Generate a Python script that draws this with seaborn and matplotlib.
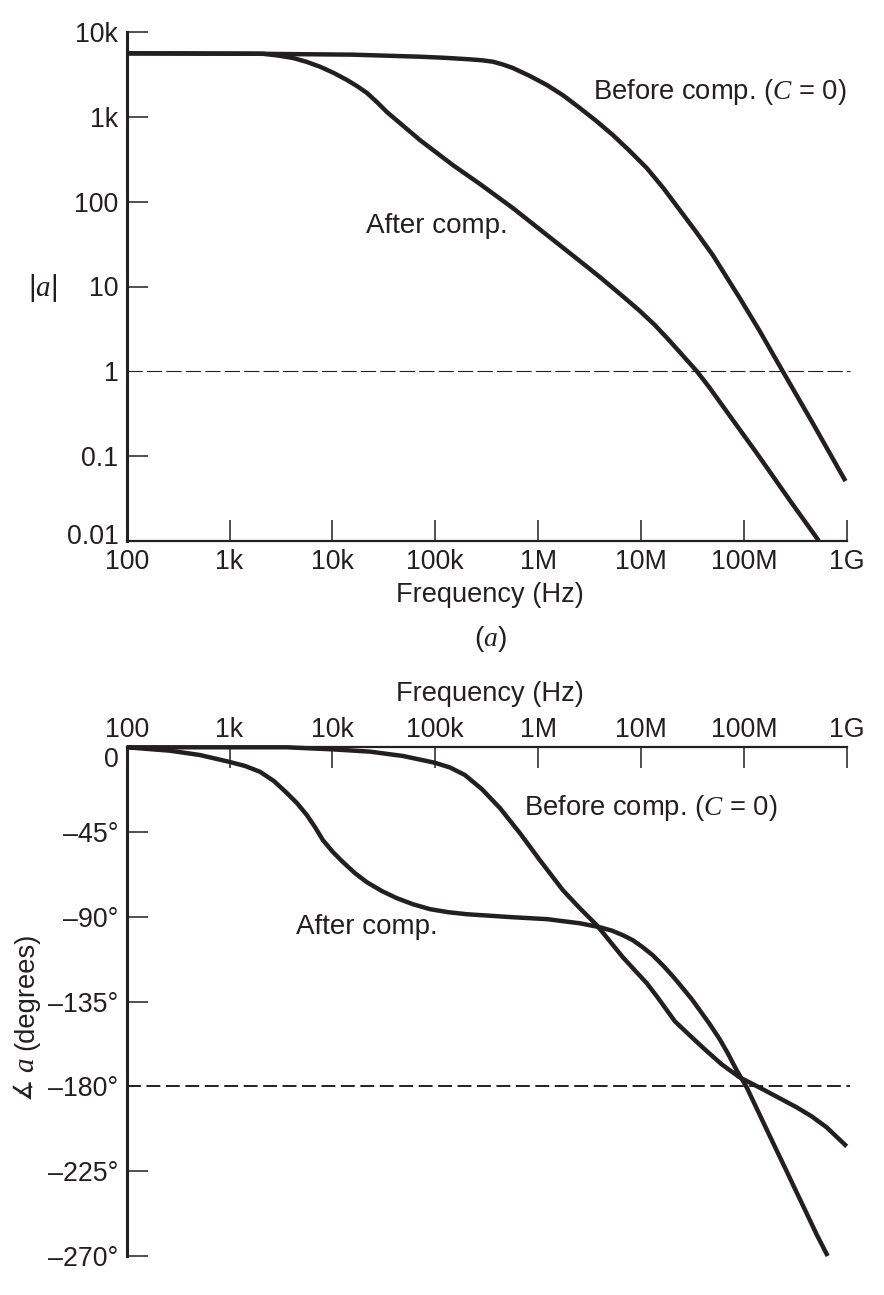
# Bode plots of the amplifier before and after compensation
import numpy as np
import pandas as pd
import seaborn as sns
import matplotlib.pyplot as plt
from matplotlib.transforms import ScaledTranslation

# frequency given as log10(Hz), gain as log10(|a|), phase in degrees
gain_before_logf = [2.00, 3.227, 4.199, 4.850, 5.093, 5.336, 5.453, 5.560, 5.657, 5.754,
                    5.919, 6.085, 6.245, 6.405, 6.566, 6.726, 6.891, 7.056, 7.217, 7.377,
                    7.537, 7.698, 7.960, 8.154, 8.378, 8.669, 8.988]
gain_before_log = [3.752, 3.747, 3.736, 3.712, 3.699, 3.681, 3.670, 3.653, 3.620, 3.579,
                   3.485, 3.378, 3.254, 3.107, 2.953, 2.788, 2.599, 2.398, 2.162, 1.903,
                   1.643, 1.371, 0.864, 0.475, 0.0, -0.611, -1.296]
gain_after_logf = [2.00, 3.325, 3.471, 3.617, 3.747, 3.879, 4.010, 4.142, 4.238, 4.336,
                   4.432, 4.530, 4.850, 5.171, 5.434, 5.754, 6.085, 6.405, 6.600, 6.843,
                   6.989, 7.134, 7.280, 7.543, 7.669, 7.795, 8.125, 8.446, 8.728]
gain_after_log = [3.752, 3.747, 3.726, 3.697, 3.652, 3.594, 3.522, 3.437, 3.366, 3.284,
                  3.177, 3.059, 2.729, 2.433, 2.210, 1.926, 1.608, 1.301, 1.112, 0.864,
                  0.711, 0.546, 0.357, 0.0, -0.198, -0.411, -0.966, -1.522, -2.0]

phase_before_logf = [2.00, 3.558, 4.005, 4.365, 4.685, 4.996, 5.142, 5.288, 5.453, 5.628,
                     5.822, 6.017, 6.240, 6.405, 6.570, 6.697, 6.823, 6.939, 7.056, 7.153,
                     7.231, 7.329, 7.474, 7.620, 7.785, 7.960, 8.184, 8.349, 8.514, 8.660,
                     8.805, 9.0]
phase_before = [0, 0, -1.1, -2.3, -4.6, -8.2, -10.7, -14.7, -22.2, -32.2,
                -45.5, -59.9, -75.8, -85.4, -94.4, -102.9, -111.4, -118.3, -125.2, -132.1,
                -138.0, -145.4, -152.9, -160.3, -168.3, -175.2, -181.5, -186.3, -191.1, -195.9,
                -201.7, -211.8]
phase_after_logf = [2.00, 2.421, 2.712, 2.995, 3.150, 3.296, 3.431, 3.558, 3.655, 3.752,
                    3.830, 3.908, 4.005, 4.102, 4.219, 4.335, 4.481, 4.627, 4.783, 4.948,
                    5.123, 5.307, 5.531, 5.754, 6.085, 6.405, 6.600, 6.717, 6.823, 6.921,
                    7.017, 7.115, 7.212, 7.309, 7.407, 7.494, 7.572, 7.669, 7.766, 7.844,
                    7.931, 8.028, 8.106, 8.184, 8.300, 8.417, 8.514, 8.611, 8.708, 8.815]
phase_after = [0, -1.8, -4.1, -7.7, -9.9, -13.0, -17.9, -24.3, -29.6, -36.0,
               -42.3, -49.3, -55.6, -60.9, -66.8, -71.6, -76.3, -80.1, -83.3, -85.9,
               -87.5, -88.6, -89.4, -90.2, -91.2, -93.4, -95.5, -97.3, -99.7, -102.4,
               -106.1, -110.4, -115.7, -121.5, -127.9, -133.7, -139.6, -147.0, -155.0, -162.4,
               -171.5, -180.5, -189.5, -198.5, -211.8, -225.1, -236.3, -247.4, -258.6, -270.0]

freq_ticks = [1e2, 1e3, 1e4, 1e5, 1e6, 1e7, 1e8, 1e9]
freq_labels = ["100", "1k", "10k", "100k", "1M", "10M", "100M", "1G"]
gain_ticks = [1e4, 1e3, 100, 10, 1, 0.1, 0.01]
gain_labels = ["10k", "1k", "100", "10", "1", "0.1", "0.01"]
phase_ticks = [0, -45, -90, -135, -180, -225, -270]
phase_labels = ["0", "–45°", "–90°", "–135°", "–180°", "–225°", "–270°"]

INK = "#231f20"
W, H = 884, 1295

sns.set_theme(style="ticks", rc={"lines.scale_dashes": False})
plt.rcParams["font.family"] = ["Liberation Sans", "DejaVu Sans"]
plt.rcParams["mathtext.fontset"] = "custom"
plt.rcParams["mathtext.it"] = "Liberation Serif:italic"
plt.rcParams["mathtext.rm"] = "Liberation Sans"
plt.rcParams["text.color"] = INK
TICK_FS = 19.3
FS = 20


def px_axes(left, right, top, bottom):
    return [left / W, 1 - bottom / H, (right - left) / W, (bottom - top) / H]


def px_text(x, y, s, **kw):
    kw.setdefault("ha", "left")
    fig.text(x / W, 1 - y / H, s, va="center", fontsize=kw.pop("fontsize", FS), color=INK, **kw)


def draw_curve(ax, logf, vals):
    df = pd.DataFrame({"f": 10 ** np.array(logf), "v": vals})
    sns.lineplot(data=df, x="f", y="v", ax=ax, color=INK, linewidth=3.2,
                 estimator=None, sort=False, clip_on=False, solid_capstyle="butt",
                 solid_joinstyle="round")


def style_axes(ax):
    ax.set_xscale("log")
    ax.set_xlim(1e2, 1e9)
    ax.set_xticks(freq_ticks, freq_labels)
    ax.minorticks_off()
    ax.tick_params(axis="both", direction="in", length=15, width=1.1, color=INK,
                   labelsize=TICK_FS, labelcolor=INK)
    ax.tick_params(axis="y", pad=6)
    ax.set_xlabel("")
    ax.set_ylabel("")
    ax.spines["left"].set_linewidth(2.2)
    for s in ax.spines.values():
        s.set_color(INK)


fig = plt.figure(figsize=(W / 100, H / 100), dpi=100)

# (a) magnitude
ax1 = fig.add_axes(px_axes(126.7, 846.7, 32.3, 540.7))
draw_curve(ax1, gain_before_logf, 10 ** np.array(gain_before_log))
draw_curve(ax1, gain_after_logf, 10 ** np.array(gain_after_log))
ax1.set_yscale("log")
ax1.set_ylim(0.01, 1e4)
ax1.hlines(1, 1e2, 1.07e9, color=INK, linewidth=0.8, linestyles=(0, (11, 3)), clip_on=False)
style_axes(ax1)
ax1.tick_params(axis="x", pad=6)
ax1.set_yticks(gain_ticks, gain_labels)
ax1.minorticks_off()
ax1.spines["bottom"].set_linewidth(1.6)
sns.despine(ax=ax1)
ax1.yaxis.get_major_ticks()[4].tick1line.set_visible(False)
lab = ax1.get_yticklabels()[-1]
lab.set_transform(lab.get_transform() + ScaledTranslation(0, 7 / 100, fig.dpi_scale_trans))

# (b) phase
ax2 = fig.add_axes(px_axes(126.7, 846.7, 747.3, 1256))
draw_curve(ax2, phase_before_logf, phase_before)
draw_curve(ax2, phase_after_logf, phase_after)
ax2.set_ylim(-270, 0)
ax2.hlines(-180, 1e2, 1.07e9, color=INK, linewidth=1.4, linestyles=(0, (10, 4)), clip_on=False)
style_axes(ax2)
ax2.set_yticks(phase_ticks, phase_labels)
ax2.xaxis.tick_top()
ax2.tick_params(axis="x", direction="in", length=15, width=1.1, pad=3)
ax2.spines["top"].set_linewidth(1.6)
ax2.spines["bottom"].set_visible(False)
ax2.spines["right"].set_visible(False)
ax2.yaxis.get_major_ticks()[4].tick1line.set_visible(False)
ax2.get_yticklabels()[0].set_verticalalignment("top")

# labels
px_text(593, 92, "Before comp. ($C$ = 0)", fontsize=19.7)
px_text(366, 226, "After comp.")
px_text(524, 808, "Before comp. ($C$ = 0)", fontsize=19.7)
px_text(296, 927, "After comp.")
px_text(490, 595, "Frequency (Hz)", ha="center", fontsize=19.6)
px_text(490, 694, "Frequency (Hz)", ha="center", fontsize=19.6)
px_text(490, 639, "($a$)", ha="center")
px_text(43, 288, "$|a|$", ha="center", fontsize=21)
px_text(23, 1088, "∡", ha="center", rotation=90, fontsize=18)
px_text(26, 1065, "$a$", ha="center", rotation=90, fontsize=21)
px_text(26, 991, "(degrees)", ha="center", rotation=90, fontsize=19.8)

fig.savefig("out.png", dpi=100)
